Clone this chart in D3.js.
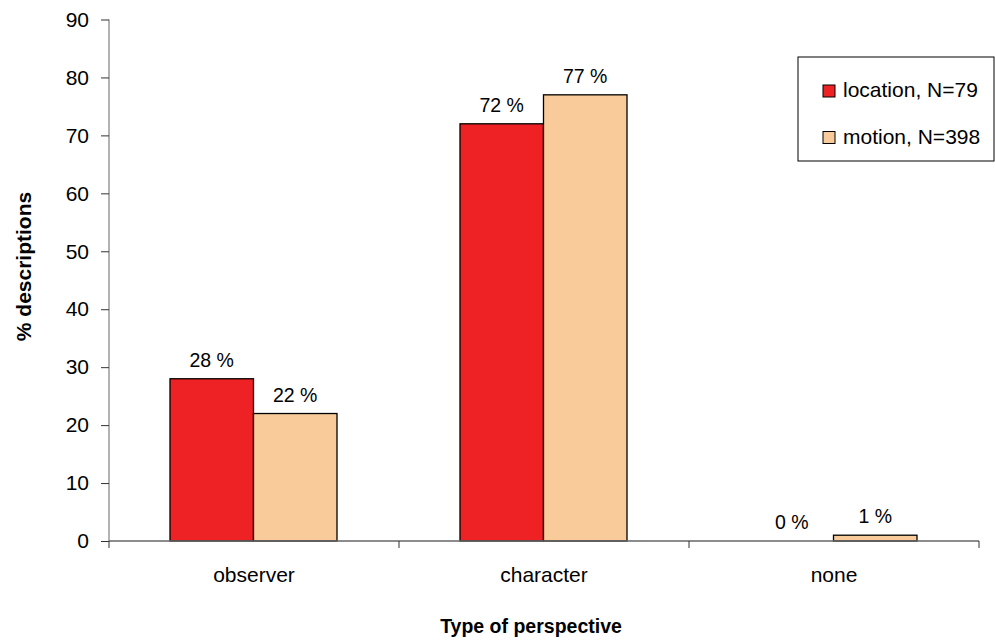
<!DOCTYPE html>
<html>
<head>
<meta charset="utf-8">
<script src="https://cdn.jsdelivr.net/npm/d3@7"></script>
<style>
  body { margin: 0; background: #fff; }
  text { font-family: "Liberation Sans", Arial, sans-serif; fill: #000; }
</style>
</head>
<body>
<div id="chart"></div>
<script>
var categories = ["observer", "character", "none"],
    seriesNames = ["location, N=79", "motion, N=398"],
    location_ = [28, 72, 0],
    motion = [22, 77, 1],
    yTicks = [0, 10, 20, 30, 40, 50, 60, 70, 80, 90],
    colors = ["#ee2224", "#f9cb9b"];

var margin = { top: 19.5, right: 16, bottom: 100, left: 109 },
    width = 995 - margin.left - margin.right,
    height = 641 - margin.top - margin.bottom;

var svg = d3.select("#chart").append("svg")
    .attr("width", 995)
    .attr("height", 641)
    .append("g")
    .attr("transform", "translate(" + margin.left + "," + margin.top + ")");

var x = d3.scaleBand().domain(categories).range([0, 870]),
    x1 = d3.scaleBand().domain([0, 1]).range([61, 290 - 62]),
    y = d3.scaleLinear().domain([0, 90]).range([height, 0]);

var data = categories.map(function(c, i) {
    return { cat: c, values: [location_[i], motion[i]] };
});

// bars
var groups = svg.selectAll(".grp")
    .data(data)
    .enter().append("g")
    .attr("transform", function(d) { return "translate(" + x(d.cat) + ",0)"; });

groups.selectAll("rect")
    .data(function(d) { return d.values.map(function(v, k) { return { k: k, v: v }; }); })
    .enter().filter(function(d) { return d.v > 0; }).append("rect")
    .attr("x", function(d) { return x1(d.k); })
    .attr("width", x1.bandwidth())
    .attr("y", function(d) { return y(d.v); })
    .attr("height", function(d) { return height - y(d.v); })
    .attr("fill", function(d) { return colors[d.k]; })
    .attr("stroke", "#000")
    .attr("stroke-width", 1.3);

groups.selectAll(".lbl")
    .data(function(d) { return d.values.map(function(v, k) { return { k: k, v: v }; }); })
    .enter().append("text")
    .attr("x", function(d) { return x1(d.k) + x1.bandwidth() / 2; })
    .attr("y", function(d) { return y(d.v) - 12; })
    .attr("text-anchor", "middle")
    .style("font-size", "19.5px")
    .text(function(d) { return d.v + " %"; });

// y axis
var yAxis = d3.axisLeft(y).tickValues(yTicks).tickSize(8).tickPadding(12);
var ya = svg.append("g").call(yAxis);
ya.selectAll("text").style("font-size", "21px");
ya.select(".domain").attr("stroke", "#666").attr("d", "M0," + height + "V0");
ya.selectAll(".tick line").attr("stroke", "#333");

// x axis
var xa = svg.append("g").attr("transform", "translate(0," + height + ")");
xa.append("line").attr("x1", 0).attr("x2", 870).attr("stroke", "#666").attr("stroke-width", 1.3);
xa.selectAll(".xt")
    .data([0, 290, 580, 870])
    .enter().append("line")
    .attr("x1", function(d) { return d; }).attr("x2", function(d) { return d; })
    .attr("y1", 0).attr("y2", 7)
    .attr("stroke", "#333");
xa.selectAll(".xl")
    .data(categories)
    .enter().append("text")
    .attr("x", function(d) { return x(d) + x.bandwidth() / 2; })
    .attr("y", 41)
    .attr("text-anchor", "middle")
    .style("font-size", "21px")
    .text(function(d) { return d; });

// axis titles
svg.append("text")
    .attr("x", 422)
    .attr("y", height + 92)
    .attr("text-anchor", "middle")
    .style("font-size", "19.5px")
    .style("font-weight", "bold")
    .text("Type of perspective");

svg.append("text")
    .attr("transform", "translate(-78.5,247) rotate(-90)")
    .attr("text-anchor", "middle")
    .style("font-size", "21px")
    .style("font-weight", "bold")
    .text("% descriptions");

// legend
var legend = svg.append("g").attr("transform", "translate(" + (798 - margin.left) + "," + (57 - margin.top) + ")");
legend.append("rect")
    .attr("width", 196).attr("height", 104)
    .attr("fill", "#fff").attr("stroke", "#000").attr("stroke-width", 1);
seriesNames.forEach(function(s, i) {
    var row = legend.append("g").attr("transform", "translate(25," + (40 + i * 46.5) + ")");
    row.append("rect").attr("width", 12).attr("height", 12).attr("y", -12)
        .attr("fill", colors[i]).attr("stroke", "#000");
    row.append("text").attr("x", 20).attr("y", 0).style("font-size", "21px").text(s);
});
</script>
</body>
</html>
